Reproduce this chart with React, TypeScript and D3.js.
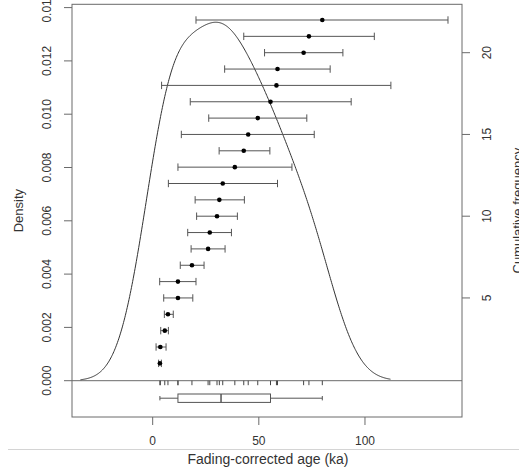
import React from "react";
import * as d3 from "d3";

// Fading-corrected ages (ka), sorted, with their error-bar limits
const ages = [3.4, 3.6, 5.7, 7.2, 11.9, 11.9, 18.5, 26.1, 26.9, 30.3, 31.4, 33.0, 38.7, 42.9, 45.0, 49.5, 55.5, 58.3, 58.8, 71.1, 73.6, 79.9];
const lowerAges = [2.8, 1.6, 3.8, 5.5, 5.2, 3.3, 13.0, 18.1, 16.5, 20.7, 20.0, 7.4, 11.9, 31.3, 13.5, 26.4, 17.7, 4.2, 33.9, 52.7, 42.9, 20.4];
const upperAges = [4.1, 6.3, 7.4, 9.7, 18.9, 20.4, 24.2, 34.1, 37.1, 39.9, 43.2, 58.8, 65.6, 55.2, 76.1, 72.6, 93.5, 112.2, 83.6, 89.6, 104.4, 139.1];

const xTicks = [0, 50, 100];
const densityTicks = [0, 0.002, 0.004, 0.006, 0.008, 0.01, 0.012, 0.014];
const cumTicks = [5, 10, 15, 20];

const kdeBandwidth = 12;
const kdeFrom = -34;
const kdeTo = 112;

const W = 519;
const H = 471;
const left = 72;
const right = 462;
const top = 4.3;
const bottom = 417;

function fivenum(v: number[]) {
  const s = [...v].sort((a, b) => a - b);
  const n = s.length;
  const n4 = Math.floor((n + 3) / 2) / 2;
  const idx = [1, n4, (n + 1) / 2, n + 1 - n4, n];
  return idx.map((d) => 0.5 * (s[Math.floor(d) - 1] + s[Math.ceil(d) - 1]));
}

export default function App() {
  const x = d3.scaleLinear().domain([-38.0, 145.7]).range([left, right]);
  const yD = d3.scaleLinear().domain([0, 0.014]).range([380.7, 7.6]);
  const yC = d3.scaleLinear().domain([0, 22]).range([379.7, 20]);

  const n = ages.length;
  const grid = d3.range(512).map((i) => kdeFrom + ((kdeTo - kdeFrom) * i) / 511);
  const dens = grid.map((g) => {
    const s = d3.sum(ages, (a) => Math.exp(-0.5 * ((g - a) / kdeBandwidth) ** 2));
    return [g, s / (n * kdeBandwidth * Math.sqrt(2 * Math.PI))] as [number, number];
  });
  const line = d3
    .line<[number, number]>()
    .x((d) => x(d[0]))
    .y((d) => yD(d[1]));

  const [mn, q1, med, q3, mx] = fivenum(ages);
  const boxY = 398.2;
  const boxH = 8.4;

  const font = "'Liberation Sans', Arial, sans-serif";
  const textCol = "#333";
  const axisCol = "#6a6a6a";

  return (
    <svg
      width={W}
      height={H}
      style={{ position: "absolute", left: 0, top: 0, background: "#fff" }}
      fontFamily={font}
    >
      {/* plot box */}
      <rect x={left} y={top} width={right - left} height={bottom - top} fill="none" stroke={axisCol} strokeWidth={1} />
      {/* zero baseline */}
      <line x1={left} x2={right} y1={yD(0)} y2={yD(0)} stroke={axisCol} strokeWidth={1} />

      {/* density curve */}
      <path d={line(dens) || ""} fill="none" stroke="#333" strokeWidth={1} />

      {/* rug */}
      {ages.map((a, i) => (
        <line key={"r" + i} x1={x(a)} x2={x(a)} y1={yD(0)} y2={yD(0) + 4.5} stroke="#444" strokeWidth={1} />
      ))}

      {/* error bars */}
      {ages.map((a, i) => {
        const yy = yC(i + 1);
        return (
          <g key={"e" + i} stroke="#555" strokeWidth={1}>
            <line x1={x(lowerAges[i])} x2={x(upperAges[i])} y1={yy} y2={yy} />
            <line x1={x(lowerAges[i])} x2={x(lowerAges[i])} y1={yy - 3.7} y2={yy + 3.7} />
            <line x1={x(upperAges[i])} x2={x(upperAges[i])} y1={yy - 3.7} y2={yy + 3.7} />
            <circle cx={x(a)} cy={yy} r={2.3} fill="#000" stroke="none" />
          </g>
        );
      })}

      {/* boxplot */}
      <g stroke="#555" strokeWidth={1} fill="none">
        <line x1={x(mn)} x2={x(q1)} y1={boxY} y2={boxY} />
        <line x1={x(q3)} x2={x(mx)} y1={boxY} y2={boxY} />
        <line x1={x(mn)} x2={x(mn)} y1={boxY - 2.2} y2={boxY + 2.2} />
        <line x1={x(mx)} x2={x(mx)} y1={boxY - 2.2} y2={boxY + 2.2} />
        <rect x={x(q1)} y={boxY - boxH / 2} width={x(q3) - x(q1)} height={boxH} />
        <line x1={x(med)} x2={x(med)} y1={boxY - boxH / 2} y2={boxY + boxH / 2} strokeWidth={1.5} />
      </g>

      {/* x axis */}
      {xTicks.map((t) => (
        <g key={"x" + t}>
          <line x1={x(t)} x2={x(t)} y1={bottom} y2={bottom + 8} stroke={axisCol} />
          <text x={x(t)} y={441} fontSize={12} fill={textCol} textAnchor="middle" dominantBaseline="central">
            {t}
          </text>
        </g>
      ))}
      <text x={(left + right) / 2 + 1} y={458.5} fontSize={14} fill={textCol} textAnchor="middle" dominantBaseline="central">
        Fading-corrected age (ka)
      </text>

      {/* left axis */}
      {densityTicks.map((t) => (
        <g key={"d" + t}>
          <line x1={left - 8} x2={left} y1={yD(t)} y2={yD(t)} stroke={axisCol} />
          <text
            transform={`translate(47,${yD(t)}) rotate(-90)`}
            fontSize={12}
            fill={textCol}
            textAnchor="middle"
            dominantBaseline="central"
          >
            {t.toFixed(3)}
          </text>
        </g>
      ))}
      <text
        transform={`translate(18,${(top + bottom) / 2}) rotate(-90)`}
        fontSize={13}
        fill={textCol}
        textAnchor="middle"
        dominantBaseline="central"
      >
        Density
      </text>

      {/* right axis */}
      {cumTicks.map((t) => (
        <g key={"c" + t}>
          <line x1={right} x2={right + 8} y1={yC(t)} y2={yC(t)} stroke={axisCol} />
          <text
            transform={`translate(487,${yC(t)}) rotate(-90)`}
            fontSize={12}
            fill={textCol}
            textAnchor="middle"
            dominantBaseline="central"
          >
            {t}
          </text>
        </g>
      ))}
      <text
        transform={`translate(522,${(top + bottom) / 2}) rotate(-90)`}
        fontSize={13}
        fill={textCol}
        textAnchor="middle"
      >
        Cumulative frequency
      </text>

      {/* page separator line */}
      <line x1={8} x2={W} y1={449.5} y2={449.5} stroke="#d4d4d4" strokeWidth={1} />
    </svg>
  );
}
